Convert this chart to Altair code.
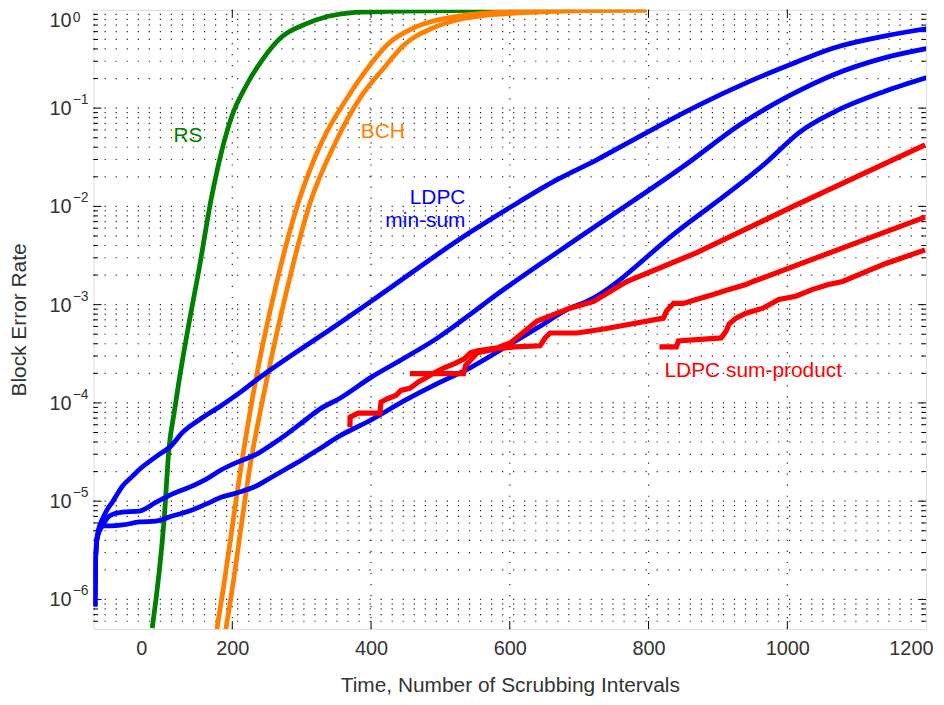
import altair as alt
import pandas as pd

# ---------------- data ----------------
rs_x = [84.6, 101.8, 109.0, 116.1, 123.3, 137.6, 152.0, 168.7, 199.3, 219.4, 242.3,
        271.0, 305.4, 338.4, 377.1, 424.4, 553.0, 797.0]
rs_y = [5.1e-7, 6.59e-6, 3.58e-5, 7.87e-5, 1.69e-4, 6.50e-4, 2.27e-3, 1.10e-2, 8.27e-2,
        0.166, 0.303, 0.529, 0.715, 0.860, 0.944, 0.966, 0.99, 0.999]

bch1_x = [177.8, 184.9, 213.6, 233.7, 260.9, 295.3, 328.3, 367.0, 400.0, 424.4, 467.4, 524.7, 610.8, 797.1]
bch1_y = [5.0e-7, 1.03e-6, 2.47e-5, 1.69e-4, 1.36e-3, 1.10e-2, 4.42e-2, 0.1315, 0.283, 0.449, 0.682,
          0.860, 0.966, 0.998]
bch2_x = [190.7, 197.9, 226.5, 249.5, 278.1, 312.5, 348.4, 385.7, 420.1, 445.9, 491.8, 553.4, 668.1, 797.1]
bch2_y = [5.0e-7, 1.03e-6, 2.47e-5, 1.69e-4, 1.36e-3, 1.10e-2, 4.42e-2, 0.1315, 0.264, 0.429, 0.667,
          0.860, 0.966, 0.998]

ms_a_x = [2, 2.9, 5.7, 14.3, 20.1, 27.2, 41.6, 55.9, 66.0, 90.3, 113.3, 127.6, 152.0, 184.9, 209.3,
          233.7, 352.7, 400.0, 543.4, 600.7, 668.1, 725.4, 798.6, 871.7, 944.8, 1003.6, 1066.7,
          1139.8, 1205.7]
ms_a_y = [8.5e-7, 2.6e-6, 4.6e-6, 6.9e-6, 8.3e-6, 9.8e-6, 1.42e-5, 1.79e-5, 2.10e-5, 2.84e-5,
          3.75e-5, 4.95e-5, 6.70e-5, 9.48e-5, 1.25e-4, 1.69e-4, 6.35e-4, 1.08e-3, 5.48e-3, 9.8e-3,
          1.87e-2, 2.98e-2, 5.71e-2, 0.1067, 0.186, 0.276, 0.410, 0.541, 0.651]

ms_b_x = [2, 2.9, 5.7, 14.3, 22.9, 41.6, 66.0, 90.3, 113.3, 137.6, 162.0, 184.9, 209.3, 233.7,
          256.6, 281.0, 305.4, 328.3, 352.7, 400.0, 448.8, 496.1, 543.4, 567.8, 711.3, 857.4,
          930.5, 1003.6, 1066.7, 1139.8, 1205.7]
ms_b_y = [8.5e-7, 2.6e-6, 4.4e-6, 5.86e-6, 7.06e-6, 7.74e-6, 7.93e-6, 9.77e-6, 1.18e-5, 1.38e-5,
          1.67e-5, 2.10e-5, 2.53e-5, 2.97e-5, 3.75e-5, 4.95e-5, 6.70e-5, 8.85e-5, 1.09e-4,
          1.82e-4, 2.88e-4, 4.59e-4, 8.0e-4, 1.08e-3, 5.48e-3, 2.78e-2, 6.71e-2, 0.1346, 0.219,
          0.325, 0.41]

ms_c_x = [2, 2.9, 5.7, 14.3, 22.9, 41.6, 66.0, 90.3, 113.3, 137.6, 162.0, 184.9, 209.3, 233.7,
          256.6, 281.0, 305.4, 328.3, 352.7, 400.0, 448.8, 496.1, 543.4, 592.1, 639.4, 686.7,
          711.1, 840.1, 969.2, 1018.0, 1066.7, 1139.8, 1205.7]
ms_c_y = [8.5e-7, 2.6e-6, 4.4e-6, 5.6e-6, 5.6e-6, 5.73e-6, 6.14e-6, 6.28e-6, 7.06e-6, 7.93e-6,
          9.33e-6, 1.10e-5, 1.23e-5, 1.42e-5, 1.75e-5, 2.20e-5, 2.77e-5, 3.50e-5, 4.52e-5,
          6.70e-5, 1.06e-4, 1.58e-4, 2.29e-4, 3.64e-4, 5.78e-4, 9.2e-4, 1.08e-3, 5.48e-3,
          2.78e-2, 5.71e-2, 9.07e-2, 0.1476, 0.209]

sp1_x = [369.5, 369.9, 381.4, 412.9, 414.3, 424.4, 435.8, 443.0, 455.9, 467.4, 477.4, 491.8,
         506.1, 520.4, 534.8, 543.4, 553.4, 582.1, 600.7, 639.4, 686.7, 721.1, 768.5, 868.8,
         1012.2, 1198.6]
sp1_y = [5.69e-5, 7.18e-5, 7.87e-5, 7.87e-5, 1.02e-4, 1.11e-4, 1.19e-4, 1.34e-4, 1.41e-4,
         1.62e-4, 1.77e-4, 2.04e-4, 2.29e-4, 2.51e-4, 2.82e-4, 3.24e-4, 3.40e-4, 3.64e-4,
         4.08e-4, 6.81e-4, 9.2e-4, 1.08e-3, 1.72e-3, 3.37e-3, 1.03e-2, 4.22e-2]

sp2_x = [455.9, 533.3, 536.2, 553.4, 582.1, 606.5, 643.7, 650.9, 658.1, 696.8, 735.5, 782.8,
         821.5, 825.8, 835.9, 850.2, 868.8, 893.2, 916.1, 940.5, 950.6, 1083.9, 1198.6]
sp2_y = [1.99e-4, 1.99e-4, 2.40e-4, 3.24e-4, 3.56e-4, 3.72e-4, 3.81e-4, 4.59e-4, 5.15e-4,
         5.15e-4, 5.65e-4, 6.50e-4, 7.30e-4, 8.59e-4, 1.03e-3, 1.03e-3, 1.13e-3, 1.27e-3,
         1.43e-3, 1.60e-3, 1.72e-3, 3.87e-3, 7.77e-3]

sp3_x = [815.8, 840.1, 843.0, 904.7, 911.9, 916.1, 926.2, 940.5, 964.9, 987.8, 1012.2, 1036.6,
         1059.5, 1079.6, 1141.2, 1198.6]
sp3_y = [3.72e-4, 3.72e-4, 4.28e-4, 4.59e-4, 5.40e-4, 6.35e-4, 7.30e-4, 8.19e-4, 9.2e-4,
         1.13e-3, 1.22e-3, 1.43e-3, 1.60e-3, 1.72e-3, 2.61e-3, 3.61e-3]

# annotations
ann_text = ["RS", "BCH", "LDPC", "min-sum", "LDPC sum-product"]
ann_x = [136.0, 417.0, 536.0, 536.0, 823.0]
ann_y = [0.052, 0.057, 0.0121, 0.00708, 2.13e-4]
ann_color = ["#008000", "#FF8000", "#0000FF", "#0000FF", "#FF0000"]
ann_align = ["center", "center", "right", "right", "left"]

# axes / ticks
x_label_pos = [69, 200, 400, 600, 800, 1000, 1200]
x_label_txt = ["0", "200", "400", "600", "800", "1000", "1200"]
x_major = [200, 400, 600, 800, 1000]
y_decades = [1e-6, 1e-5, 1e-4, 1e-3, 1e-2, 1e-1, 1.0]
y_exponents = ["\u22126", "\u22125", "\u22124", "\u22123", "\u22122", "\u22121", "0"]
y_label_anchor = [1e-6, 1e-5, 1e-4, 1e-3, 1e-2, 1e-1, 0.78]
minor_mult = [2, 3, 4, 5, 6, 7, 8, 9]
minor_decades = [1e-7, 1e-6, 1e-5, 1e-4, 1e-3, 1e-2, 1e-1]

W, H = 837, 622.5
FONT = "Liberation Sans"
TXT = "#333333"

y_minor = [m * d for d in minor_decades for m in minor_mult if 5e-7 < m * d < 1]
y_grid = sorted(set([round(v, 12) for v in y_minor] + y_decades[:-1]))

x_scale = alt.Scale(domain=[0, 1200], nice=False, zero=False)
y_scale = alt.Scale(type="log", domain=[5e-7, 1], nice=False)

expr = "''"
for p, t in zip(reversed(x_label_pos), reversed(x_label_txt)):
    expr = f"datum.value == {p} ? '{t}' : ({expr})"

x_axis = alt.Axis(values=x_label_pos, labelExpr=expr, format="d", ticks=False, tickSize=0,
                  domain=False, grid=False, labelFont=FONT, labelFontSize=20, labelColor=TXT,
                  labelPadding=10, labelFlush=3, labelFlushOffset=7, labelOverlap=False,
                  title="Time, Number of Scrubbing Intervals", titleFont=FONT, titleFontSize=21,
                  titleFontWeight="normal", titleColor=TXT, titlePadding=16)
y_axis = alt.Axis(labels=False, ticks=False, domain=False, grid=False,
                  title="Block Error Rate", titleFont=FONT, titleFontSize=21,
                  titleFontWeight="normal", titleColor=TXT, titleX=-74, titleY=H / 2,
                  titleAngle=-90, titleAlign="center", titleBaseline="middle")


def X(field="x"):
    return alt.X(f"{field}:Q", scale=x_scale, axis=x_axis)


def Y(field="y"):
    return alt.Y(f"{field}:Q", scale=y_scale, axis=y_axis)


def series_df(xs, ys):
    return pd.DataFrame({"x": xs, "y": ys, "i": list(range(len(xs)))})


def line(xs, ys, color, width=4.8, interp="monotone"):
    return alt.Chart(series_df(xs, ys)).mark_line(
        color=color, strokeWidth=width, clip=True, interpolate=interp).encode(
        x=X(), y=Y(), order="i:Q")


grid_h = alt.Chart(pd.DataFrame({"y": y_grid})).mark_rule(
    color="#222222", strokeWidth=1.2, strokeDash=[1.2, 9.9]).encode(
    y=Y(), x=alt.value(0), x2=alt.value(W))
grid_v = alt.Chart(pd.DataFrame({"x": x_major})).mark_rule(
    color="#222222", strokeWidth=1.2, strokeDash=[1.2, 9.9]).encode(
    x=X(), y=alt.value(0), y2=alt.value(H))

minor_df = pd.DataFrame({"y": y_minor})
major_df = pd.DataFrame({"y": y_decades[:-1]})
tick_layers = []
for x0, x1, d in [(0, 8, major_df), (W - 8, W, major_df), (0, 4.5, minor_df), (W - 4.5, W, minor_df)]:
    tick_layers.append(alt.Chart(d).mark_rule(color="black", strokeWidth=1).encode(
        y=Y(), x=alt.value(x0), x2=alt.value(x1)))
xt_df = pd.DataFrame({"x": x_major})
for y0, y1 in [(H, H - 8), (0, 8)]:
    tick_layers.append(alt.Chart(xt_df).mark_rule(color="black", strokeWidth=1).encode(
        x=X(), y=alt.value(y0), y2=alt.value(y1)))

ylab_df = pd.DataFrame({"y": y_label_anchor, "e": y_exponents, "top": [0, 0, 0, 0, 0, 0, 1]})
ylab_base = alt.Chart(ylab_df).mark_text(font=FONT, fontSize=20, color=TXT, align="right",
                                          baseline="middle", dy=1).encode(
    y=Y(), x=alt.value(-22), text=alt.value("10"))
ylab_exp = alt.Chart(ylab_df).transform_filter(alt.datum.top == 0).mark_text(
    font=FONT, fontSize=14, color=TXT, align="left", baseline="middle", dy=-8).encode(
    y=Y(), x=alt.value(-21), text="e:N")
ylab_exp_top = alt.Chart(ylab_df).transform_filter(alt.datum.top == 1).mark_text(
    font=FONT, fontSize=14, color=TXT, align="left", baseline="middle", dy=-2).encode(
    y=Y(), x=alt.value(-21), text="e:N")

ann_df = pd.DataFrame({"x": ann_x, "y": ann_y, "t": ann_text, "c": ann_color, "a": ann_align})
ann_layers = []
for al in ["center", "right", "left"]:
    ann_layers.append(alt.Chart(ann_df).transform_filter(alt.datum.a == al).mark_text(
        font=FONT, fontSize=21, align=al, baseline="middle").encode(
        x=X(), y=Y(), text="t:N", color=alt.Color("c:N", scale=None)))

lines = [
    line(rs_x, rs_y, "#008000"),
    line(bch1_x, bch1_y, "#FF8000"),
    line(bch2_x, bch2_y, "#FF8000"),
    line(ms_a_x, ms_a_y, "#0000FF"),
    line(ms_b_x, ms_b_y, "#0000FF"),
    line(ms_c_x, ms_c_y, "#0000FF"),
    line(sp1_x, sp1_y, "#FF0000", 5.2, "linear"),
    line(sp2_x, sp2_y, "#FF0000", 5.2, "linear"),
    line(sp3_x, sp3_y, "#FF0000", 5.2, "linear"),
]

chart = alt.layer(grid_h, grid_v, *tick_layers, *lines, ylab_base, ylab_exp, ylab_exp_top,
                  *ann_layers).properties(
    width=W, height=H,
    autosize=alt.AutoSizeParams(type="none"),
    padding={"left": 86, "top": 0, "right": 10, "bottom": 72},
).configure_view(stroke="black", strokeWidth=1.2).configure(background="white")

chart.save("out.html", embed_options={"renderer": "svg", "actions": False})
